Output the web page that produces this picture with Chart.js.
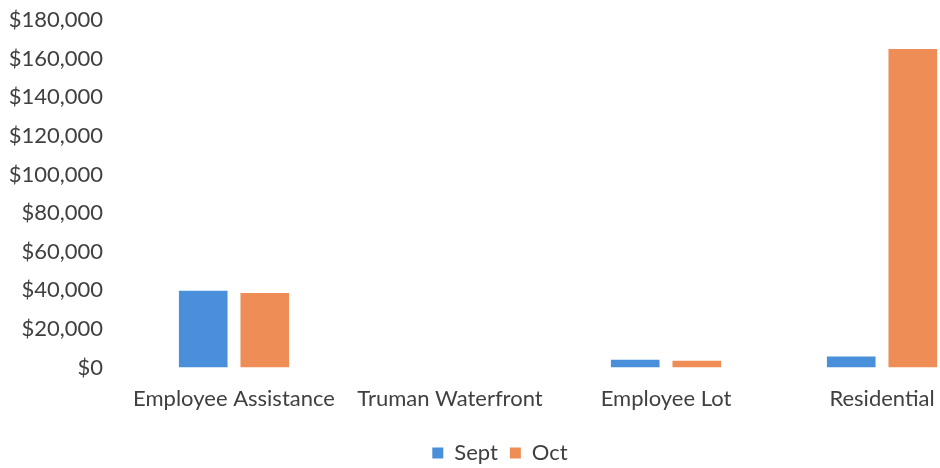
<!DOCTYPE html>
<html>
<head>
<meta charset="utf-8">
<style>
  html, body { margin: 0; padding: 0; background: #fff; overflow: hidden; }
  #wrap { width: 1004px; height: 468px; }
</style>
</head>
<body>
<div id="wrap"><canvas id="myChart" width="1004" height="468"></canvas></div>
<script src="https://cdn.jsdelivr.net/npm/chart.js@4.4.1/dist/chart.umd.min.js"></script>
<script>
  const categories = ['Employee Assistance', 'Truman Waterfront', 'Employee Lot', 'Residential']
  const septValues = [39800, 0, 4100, 5700]
  const octValues = [38600, 0, 3600, 165000]
  const yTicks = [0, 20000, 40000, 60000, 80000, 100000, 120000, 140000, 160000, 180000]

  const ctx = document.getElementById('myChart').getContext('2d')
  Chart.defaults.font.family = 'Lato, "Open Sans", sans-serif'
  Chart.defaults.font.size = 22
  Chart.defaults.color = '#404040'

  const barChart = new Chart(ctx, {
      type: 'bar',
      data: {
          labels: categories,
          datasets: [{
              label: 'Sept',
              data: septValues,
              backgroundColor: '#4a8fd9',
              categoryPercentage: 0.57,
              barPercentage: 0.79
          }, {
              label: 'Oct',
              data: octValues,
              backgroundColor: '#ee8d56',
              categoryPercentage: 0.57,
              barPercentage: 0.79
          }]
      },
      options: {
          responsive: false,
          animation: false,
          layout: { padding: { left: 10, top: 0, right: 14, bottom: -6 } },
          plugins: {
              legend: {
                  position: 'bottom',
                  labels: { boxWidth: 11, boxHeight: 11, padding: 12 }
              },
              tooltip: { enabled: false }
          },
          scales: {
              x: {
                  grid: { display: false, drawTicks: false },
                  border: { display: false },
                  ticks: { padding: 18 }
              },
              y: {
                  min: 0,
                  max: 180000,
                  grid: { display: false, drawTicks: false },
                  border: { display: false },
                  afterBuildTicks: function (axis) {
                      axis.ticks = yTicks.map(function (v) { return { value: v } })
                  },
                  afterFit: function (axis) {
                      // label column plus gap, and no extra top/bottom room
                      axis.width = 116
                      axis.paddingTop = 20
                      axis.paddingBottom = 13
                  },
                  ticks: {
                      padding: 23,
                      callback: function (v) { return '$' + v.toLocaleString('en-US') }
                  }
              }
          }
      }
  })
</script>
</body>
</html>
